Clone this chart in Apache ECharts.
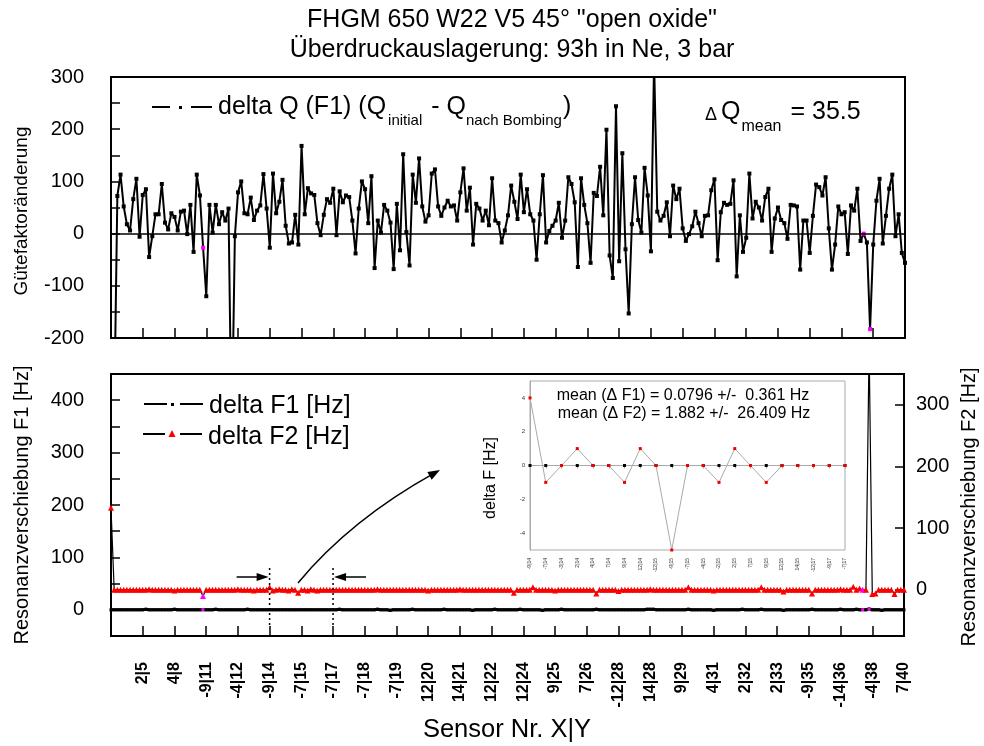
<!DOCTYPE html>
<html><head><meta charset="utf-8">
<script src="https://cdn.jsdelivr.net/npm/echarts@6/dist/echarts.min.js"></script>
<style>html,body{margin:0;padding:0;background:#fff}#c{width:984px;height:746px}</style>
</head><body><div id="c"></div>
<script>
// ---------- data ----------
const tickLabels = ['2|5','4|8','-9|11','-4|12','-9|14','-7|15','-7|17','-7|18','-7|19','12|20',
  '14|21','12|22','12|24','9|25','7|26','-12|28','14|28','9|29','4|31','2|32','2|33','-9|35','-14|36','-4|38','7|40'];

const deltaQ = [
  -400,-350,72,113,52,18,6,66,105,-6,74,85,-45,-5,37,37,95,21,8,39,32,6,42,44,-1,
  55,-35,113,73,-27,-120,55,2,55,18,41,25,48,-400,-5,79,100,39,37,69,26,44,54,114,48,
  -27,115,39,61,103,15,-19,-17,36,-21,168,37,87,77,74,20,-3,36,66,59,86,-3,81,60,73,
  70,25,-38,48,100,85,20,110,-66,25,2,55,44,21,-68,57,-32,152,3,-61,113,59,144,52,23,
  35,115,123,52,34,50,63,52,54,25,79,125,44,88,-21,57,48,25,44,16,106,25,20,-17,6,
  35,92,61,28,113,41,85,37,25,-50,37,112,-17,5,15,25,59,-8,25,108,95,60,-64,106,55,
  20,-56,78,72,128,35,199,-42,-85,244,-53,154,-30,-153,18,108,26,2,126,73,-34,330,42,25,34,
  60,-5,92,66,86,10,-14,-1,14,42,20,-5,34,35,83,104,-51,41,59,55,57,102,-82,35,-35,
  -8,115,29,61,50,25,70,86,-35,29,50,26,20,-10,55,54,52,-69,25,25,-37,34,94,89,73,
  108,10,-69,-21,52,37,41,-39,54,44,86,-14,0,-17,-183,-21,63,105,-19,34,86,113,-5,37,-37,
  -56
];

const deltaF1 = [
  0,0,0,0,0,0,0,0,0,0,0,1,0,0,0,0,0,0,0,0,1,0,0,0,0,
  0,0,0,0,0,0,0,0,1,0,0,0,0,0,0,0,0,0,1,0,0,0,0,0,0,
  0,0,0,0,0,0,0,0,0,0,0,0,0,0,0,0,0,0,0,0,0,0,1,0,0,
  0,0,0,0,0,0,0,0,0,1,0,0,0,-1,0,0,0,0,0,0,1,0,0,0,0,
  0,0,0,0,0,1,0,0,0,0,0,0,0,0,-1,0,0,0,0,0,0,1,0,0,0,
  0,0,0,0,1,0,0,0,0,0,0,-1,0,0,0,0,0,1,0,0,0,0,0,0,0,
  0,0,0,1,0,0,0,0,0,0,0,0,0,0,0,0,0,0,0,1,1,1,0,0,0,
  0,0,0,0,0,0,0,1,0,0,0,0,0,0,0,-1,0,0,0,0,0,0,0,0,1,
  0,0,0,0,0,1,0,0,0,0,0,0,-1,0,0,0,0,0,0,0,0,1,0,0,0,
  0,0,0,0,0,1,0,0,0,0,1,0,0,0,2,0,0,0,-1,0,0,0,0,0,0,
  0
];

const deltaF2 = [
  133,0,0,0,0,0,0,0,0,0,0,0,1,0,0,0,0,0,0,0,-1,0,0,0,0,
  0,0,0,0,-10,0,0,0,0,0,0,0,0,0,0,1,0,0,0,0,-1,0,0,0,0,
  4,-1,0,1,0,0,-1,1,0,-5,0,0,-1,1,0,-1,0,0,0,0,0,0,0,0,0,
  0,0,0,0,0,0,0,0,0,1,0,0,0,0,0,0,0,0,0,0,0,0,0,0,0,
  -1,0,0,0,0,0,0,0,0,0,1,0,0,0,0,0,0,0,0,0,0,0,0,0,0,
  0,0,-5,0,0,0,0,0,4,0,0,0,0,0,0,-1,0,0,0,0,0,0,0,0,0,
  0,0,0,-6,0,0,0,0,0,0,-2,0,0,0,0,0,0,0,0,0,1,0,0,0,0,
  0,0,0,0,0,0,0,4,0,0,0,0,0,0,0,-1,0,0,0,0,0,0,0,0,0,
  0,0,0,0,0,4,0,0,0,0,0,0,-3,0,0,0,0,0,0,0,0,-6,0,0,0,
  0,0,0,0,0,1,0,0,0,5,0,2,0,0,395,-7,-6,0,0,0,0,0,-7,0,0,
  0
];

const highlightIdx = [29, 237, 239];
const zoomRange = [50, 70];

const insetLabels = ['-9|14','-7|14','-3|14','2|14','4|14','7|14','9|14','12|14','-12|15','-9|15','-7|15',
  '-4|15','-2|15','2|15','7|15','9|15','12|15','14|15','-12|17','-9|17','-7|17'];
const insetF1 = [0,0,0,0,0,0,0,0,0,0,0,0,0,0,0,0,0,0,0,0,0];
const insetF2 = [4,-1,0,1,0,0,-1,1,0,-5,0,0,-1,1,0,-1,0,0,0,0,0];

const titleLines = ['FHGM 650 W22 V5 45° "open oxide"', 'Überdruckauslagerung: 93h in Ne, 3 bar'];
const meanTexts = ['mean (Δ F1) = 0.0796 +/-  0.361 Hz', 'mean (Δ F2) = 1.882 +/-  26.409 Hz'];

// ---------- chart ----------
const FONT = 'Arial, "Liberation Sans", Helvetica, sans-serif';
const NARROW = '"Liberation Sans Narrow", "Arial Narrow", Arial, sans-serif';
const HL = '#ff00ff';
const pts = arr => arr.map((v, i) => highlightIdx.indexOf(i) >= 0 ? {value: [i, v], itemStyle: {color: HL}} : [i, v]);

const chart = echarts.init(document.getElementById('c'), null, {renderer: 'canvas'});
const blackLine = {onZero: false, lineStyle: {color: '#000', width: 2}};
const inTick = len => ({inside: true, length: len, lineStyle: {color: '#000', width: 1.5}});
const hundreds = v => (v % 100 === 0 ? String(v) : '');
const tickLabelFmt = v => (v > 0 && v % 10 === 0 ? tickLabels[v / 10 - 1] : '');

const option = {
  animation: false,
  backgroundColor: '#fff',
  textStyle: {fontFamily: FONT},
  grid: [
    {left: 111, top: 77, width: 794, height: 261, show: true, borderColor: '#000', borderWidth: 2, outerBoundsMode: 'none'},
    {left: 111, top: 374, width: 793, height: 262, show: true, borderColor: '#000', borderWidth: 2, outerBoundsMode: 'none'},
    {left: 530, top: 381, width: 315, height: 169, show: true, borderColor: '#aaa', borderWidth: 1, backgroundColor: '#fff', outerBoundsMode: 'none'}
  ],
  xAxis: [
    {gridIndex: 0, type: 'value', min: 0, max: 250, interval: 10, axisLine: blackLine, axisTick: inTick(10),
      axisLabel: {show: false}, splitLine: {show: false}},
    {gridIndex: 1, type: 'value', min: 0, max: 250, interval: 10, axisLine: blackLine, axisTick: inTick(10),
      axisLabel: {rotate: 90, margin: 26, fontSize: 16, fontWeight: 'bold', fontFamily: NARROW, color: '#000', formatter: tickLabelFmt, showMaxLabel: true},
      splitLine: {show: false}},
    {gridIndex: 2, type: 'category', data: insetLabels, boundaryGap: false,
      axisLine: {lineStyle: {color: '#aaa', width: 1}}, axisTick: {length: 3, lineStyle: {color: '#aaa'}},
      axisLabel: {rotate: 90, fontSize: 5, margin: 8, color: '#333', interval: 0}, splitLine: {show: false}}
  ],
  yAxis: [
    {gridIndex: 0, type: 'value', min: -200, max: 300, interval: 50, axisLine: blackLine, axisTick: inTick(9),
      axisLabel: {fontSize: 20, color: '#000', margin: 27, formatter: hundreds}, splitLine: {show: false}},
    {gridIndex: 1, type: 'value', min: -50, max: 450, interval: 50, axisLine: blackLine, axisTick: inTick(9),
      axisLabel: {fontSize: 20, color: '#000', margin: 27, formatter: hundreds}, splitLine: {show: false}},
    {gridIndex: 1, type: 'value', position: 'right', min: -75, max: 350, splitNumber: 5, axisLine: blackLine, axisTick: inTick(9),
      axisLabel: {fontSize: 20, color: '#000', margin: 12, showMinLabel: false, showMaxLabel: false}, splitLine: {show: false}},
    {gridIndex: 2, type: 'value', min: -5, max: 5, interval: 1,
      axisLine: {show: true, lineStyle: {color: '#aaa', width: 1}}, axisTick: {length: 3, lineStyle: {color: '#aaa'}},
      axisLabel: {fontSize: 6, color: '#333', margin: 5, formatter: v => (v % 2 === 0 ? String(v) : '')}, splitLine: {show: false}}
  ],
  series: [
    {name: 'delta Q (F1)', type: 'line', xAxisIndex: 0, yAxisIndex: 0, data: pts(deltaQ),
      symbol: 'rect', symbolSize: 4, showSymbol: true, itemStyle: {color: '#000'}, lineStyle: {color: '#000', width: 2},
      emphasis: {disabled: true}, silent: true, clip: true,
      markLine: {silent: true, symbol: 'none', label: {show: false}, lineStyle: {color: '#000', type: 'solid', width: 1.5},
        data: [{yAxis: 0}], animation: false}},
    {name: 'delta F1 [Hz]', type: 'line', xAxisIndex: 1, yAxisIndex: 1, data: pts(deltaF1),
      symbol: 'rect', symbolSize: 3, itemStyle: {color: '#000'}, lineStyle: {color: '#000', width: 3},
      emphasis: {disabled: true}, silent: true, clip: true},
    {name: 'delta F2 [Hz]', type: 'line', xAxisIndex: 1, yAxisIndex: 2, data: pts(deltaF2),
      symbol: 'triangle', symbolSize: 6, itemStyle: {color: '#ff0000'}, lineStyle: {color: '#000', width: 1.2},
      emphasis: {disabled: true}, silent: true, clip: true},
    {name: 'inset F1', type: 'line', xAxisIndex: 2, yAxisIndex: 3, data: insetF1,
      symbol: 'rect', symbolSize: 3, itemStyle: {color: '#000'}, lineStyle: {color: '#aaa', width: 1},
      emphasis: {disabled: true}, silent: true, clip: false},
    {name: 'inset F2', type: 'line', xAxisIndex: 2, yAxisIndex: 3, data: insetF2,
      symbol: 'rect', symbolSize: 3, itemStyle: {color: '#ee0000'}, lineStyle: {color: '#aaa', width: 1},
      emphasis: {disabled: true}, silent: true, clip: false}
  ]
};
chart.setOption(option);

// ---------- annotations ----------
const T = (text, x, y, size, o = {}) => ({
  type: 'text', x, y, rotation: o.rot || 0, silent: true, z: 100,
  style: {text, fill: o.color || '#000', font: (o.weight || 'normal') + ' ' + size + 'px ' + FONT,
    textAlign: o.align || 'left', textVerticalAlign: 'middle'}
});
const L = (x1, y1, x2, y2, w = 2, dash) => ({type: 'line', silent: true, z: 100,
  shape: {x1, y1, x2, y2}, style: {stroke: '#000', lineWidth: w, lineDash: dash || null}});
const P = (points, fill = '#000') => ({type: 'polygon', silent: true, z: 100, shape: {points}, style: {fill}});
const R = (x, y, w, h) => ({type: 'rect', silent: true, z: 100, shape: {x, y, width: w, height: h}, style: {fill: '#000'}});

// text width measuring for chained sub/superscript runs
const mctx = document.createElement('canvas').getContext('2d');
const tw = (s, size) => { mctx.font = size + 'px ' + FONT; return mctx.measureText(s).width; };
function chain(x, parts) {
  const out = [];
  parts.forEach(p => { out.push(T(p[0], x, p[2], p[1])); x += tw(p[0], p[1]) + (p[3] || 0); });
  return out;
}

const xa = chart.convertToPixel({xAxisIndex: 1}, zoomRange[0]);
const xb = chart.convertToPixel({xAxisIndex: 1}, zoomRange[1]);

// curved arrow
const c0 = [298, 583], cp = [350, 520], c1 = [440, 470];
const dx = c1[0] - cp[0], dy = c1[1] - cp[1], dl = Math.hypot(dx, dy);
const ux = dx / dl, uy = dy / dl;
const head = [c1, [c1[0] - 12 * ux - 4.5 * uy, c1[1] - 12 * uy + 4.5 * ux], [c1[0] - 12 * ux + 4.5 * uy, c1[1] - 12 * uy - 4.5 * ux]];

const graphic = [
  T(titleLines[0], 512, 20, 25, {align: 'center'}),
  T(titleLines[1], 512, 50, 25, {align: 'center'}),
  T('Gütefaktoränderung', 22, 211, 19, {align: 'center', rot: Math.PI / 2}),
  T('Resonanzverschiebung F1 [Hz]', 22, 505, 20, {align: 'center', rot: Math.PI / 2}),
  T('Resonanzverschiebung F2 [Hz]', 969, 507, 20, {align: 'center', rot: Math.PI / 2}),
  T('Sensor Nr. X|Y', 507, 730, 25.5, {align: 'center'}),
  // top legend
  L(152, 107, 170, 107), R(179, 106, 3, 3), L(191, 107, 212, 107),
  ...chain(218, [['delta Q (F1) (Q', 25, 107, 2], ['initial', 15, 121, 9], ['- Q', 25, 107, 0], ['nach Bombing', 15, 121, 1], [')', 25, 107]]),
  // delta Q mean
  ...chain(705, [['Δ', 18, 115, 4], ['Q', 25, 112, 1], ['mean', 16, 127, 9], ['= 35.5', 25, 112]]),
  // bottom legend
  L(144, 404, 167, 404), R(171, 403, 3, 3), L(180, 404, 203, 404), T('delta F1 [Hz]', 209, 406, 25),
  L(143, 434, 165, 434), P([[172, 430], [168.5, 437], [175.5, 437]], '#ff0000'), L(180, 434, 202, 434), T('delta F2 [Hz]', 208, 437, 25),
  // range markers
  L(xa, 568, xa, 628, 1.5, [2, 3]), L(xb, 568, xb, 628, 1.5, [2, 3]),
  L(xa - 33, 577, xa - 10, 577, 1.5), P([[xa - 1, 577], [xa - 13, 573], [xa - 13, 581]]),
  L(xb + 33, 577, xb + 10, 577, 1.5), P([[xb + 1, 577], [xb + 13, 573], [xb + 13, 581]]),
  {type: 'bezierCurve', silent: true, z: 100, shape: {x1: c0[0], y1: c0[1], x2: c1[0] - 6 * ux, y2: c1[1] - 6 * uy, cpx1: cp[0], cpy1: cp[1]},
    style: {stroke: '#000', lineWidth: 1.5, fill: 'none'}},
  P(head),
  // inset texts
  T(meanTexts[0], 683, 396, 16, {align: 'center'}),
  T(meanTexts[1], 684, 414, 16, {align: 'center'}),
  T('delta F [Hz]', 491, 478, 16, {align: 'center', rot: Math.PI / 2})
];
chart.setOption({graphic: graphic});
</script>
</body></html>
